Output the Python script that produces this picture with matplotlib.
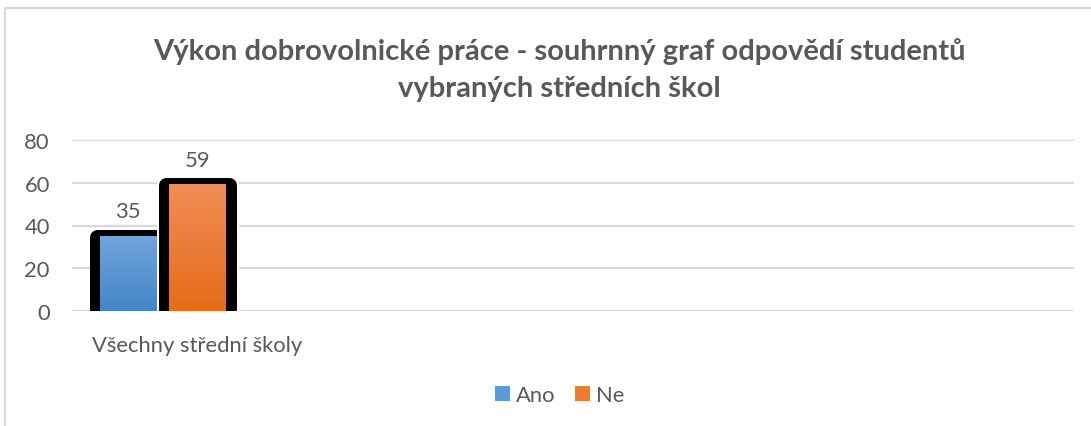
import matplotlib
matplotlib.use("Agg")
import matplotlib.pyplot as plt
import numpy as np
from matplotlib.patches import Rectangle
from matplotlib.colors import LinearSegmentedColormap

title = "Výkon dobrovolnické práce - souhrnný graf odpovědí studentů\nvybraných středních škol"
categories = ["Všechny střední školy", "", "", ""]
series_names = ["Ano", "Ne"]
ano_values = [35]
ne_values = [59]
y_ticks = [0, 20, 40, 60, 80]

W, H = 1091, 427
DPI = 100
plt.rcParams['font.family'] = ['Lato', 'DejaVu Sans']
TXT = '#595959'
FS = 15.8

fig = plt.figure(figsize=(W / DPI, H / DPI), dpi=DPI)
fig.patch.set_facecolor('white')

# chart border
fig.add_artist(Rectangle((5 / W, -0.1), 1.2, 1.1 - 9 / H, transform=fig.transFigure,
                         fill=False, edgecolor='#d9d9d9', linewidth=1.5))

ax_l, ax_r = 72, 1074
ax_t, ax_b = 141, 312
ax = fig.add_axes([ax_l / W, (H - ax_b) / H, (ax_r - ax_l) / W, (ax_b - ax_t) / H])
ax.set_facecolor('none')

ncat = len(categories)
ax.set_xlim(-0.5, ncat - 0.5)
ax.set_ylim(0, 80)
px_x = (ax_r - ax_l) / ncat  # pixels per x unit
px_y = (ax_b - ax_t) / 80.0   # pixels per y unit

bar_w = 57 / px_x
offsets = [-69 / px_x, 0.0]
cmaps = [LinearSegmentedColormap.from_list('b', ['#4485c9', '#6fa6dc']),
         LinearSegmentedColormap.from_list('o', ['#e66c17', '#f18d57'])]
solid = ['#5b9bd5', '#ed7d31']
grad = np.linspace(0, 1, 256).reshape(-1, 1)

lw_px = 15
for si, vals in enumerate([ano_values, ne_values]):
    for ci, v in enumerate(vals):
        xc = ci + offsets[si]
        x0 = xc - bar_w / 2
        pad = 3 / px_x
        top_extra = -0.5 / px_y
        if si > 0:
            ax.add_patch(Rectangle((x0 - pad, -10), bar_w + 2 * pad, v + 10 + top_extra,
                                   facecolor='white', edgecolor='white',
                                   linewidth=(lw_px + 4) * 72 / DPI, joinstyle='round', zorder=3))
        ax.add_patch(Rectangle((x0 - pad, -10), bar_w + 2 * pad, v + 10 + top_extra,
                               facecolor='black', edgecolor='black',
                               linewidth=lw_px * 72 / DPI, joinstyle='round', zorder=3))
        ax.imshow(grad, extent=[x0, x0 + bar_w, 0, v], origin='lower',
                  cmap=cmaps[si], aspect='auto', zorder=4)
        ax.text(xc, v + 25 / px_y, str(v), ha='center', va='center',
                fontsize=FS, color=TXT, zorder=5)

ax.set_xlim(-0.5, ncat - 0.5)
ax.set_ylim(0, 80)
ax.set_yticks(y_ticks)
ax.set_yticklabels([str(t) for t in y_ticks], fontsize=FS, color=TXT)
ax.set_xticks(range(ncat))
ax.set_xticklabels(categories, fontsize=FS, color=TXT)
ax.tick_params(axis='both', length=0)
ax.tick_params(axis='y', pad=16)
ax.tick_params(axis='x', pad=17)
ax.grid(axis='y', color='#d9d9d9', linewidth=1.5, zorder=0)
ax.set_axisbelow(True)
for s in ax.spines.values():
    s.set_visible(False)

fig.text(559 / W, 1 - 70 / H, title, ha='center', va='center', fontsize=21,
         fontweight='bold', color=TXT, linespacing=1.56)

handles = [Rectangle((0, 0), 1, 1, facecolor=c) for c in solid]
fig.legend(handles, series_names, loc='center', bbox_to_anchor=(560 / W, 1 - 396 / H),
           ncol=2, frameon=False, fontsize=FS, labelcolor=TXT,
           handlelength=0.65, handleheight=0.65, handletextpad=0.3, columnspacing=0.9)

fig.savefig('out.png', dpi=DPI, facecolor='white')
